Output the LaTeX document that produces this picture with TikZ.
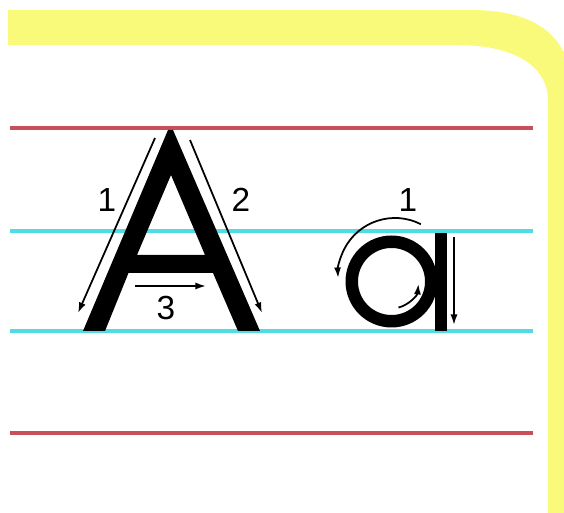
\documentclass[tikz,border=0pt]{standalone}
\usepackage{fontspec}
\setmainfont{Liberation Sans}
\usetikzlibrary{arrows.meta}
\definecolor{bandYellow}{HTML}{FAFA7A}
\definecolor{ruleRed}{HTML}{C8505A}
\definecolor{ruleCyan}{HTML}{50DCE4}
\tikzset{
  sheet/band/.style={fill=bandYellow},
  sheet/redline/.style={draw=ruleRed, line width=1.8pt},
  sheet/cyanline/.style={draw=ruleCyan, line width=1.8pt},
  glyph/solid/.style={fill=black, even odd rule},
  glyph/ring/.style={draw=black, line width=7.1pt},
  stroke/arr/.style={-{Latex[length=6pt,width=4pt]}, line width=1pt},
  stroke/num/.style={font=\fontsize{19}{19}\selectfont, inner sep=0pt}
}

\begin{document}
\begin{tikzpicture}[x=0.02cm, y=0.02cm]
  \useasboundingbox (0,0) rectangle (564,513);
  \fill[sheet/band] (8,503) -- (470,503) .. controls (535,503) and (566,478) .. (572,433)
    -- (572,-5) -- (548,-5) -- (548,413) .. controls (548,443) and (520,468) .. (457,468)
    -- (8,468) -- cycle;
  \foreach \yy in {385,80} \draw[sheet/redline] (10,\yy) -- (533,\yy);
  \foreach \yy in {282,182} \draw[sheet/cyanline] (10,\yy) -- (533,\yy);
  % capital A
  \fill[glyph/solid] (83,182) -- (168,383) -- (173,383) -- (260,182) -- (238,182) -- (213,240)
    -- (128.5,240) -- (105,182) -- cycle (137,258) -- (171,338) -- (205,258) -- cycle;
  \draw[stroke/arr] (155,375) -- (78,200);
  \draw[stroke/arr] (190,373) -- (262,200);
  \draw[stroke/arr] (135,227) -- (206,227);
  \node[stroke/num] (capOne) at (107,313) {1};
  \node[stroke/num] (capTwo) at (241,313) {2};
  \node[stroke/num] (capThree) at (166,205) {3};
  % small a
  \draw[glyph/ring] (391.5,231.5) circle[radius=39.75];
  \fill (435,182) rectangle (447,280);
  \draw[stroke/arr] (395,238) ++(63:57) arc[start angle=63, end angle=183, radius=57];
  \draw[stroke/arr] (391.5,231.5) ++(-75:27) arc[start angle=-75, end angle=-5, radius=27];
  \draw[stroke/arr] (454,276) -- (454,188);
  \node[stroke/num] (smallOne) at (408,313) {1};
\end{tikzpicture}
\end{document}
